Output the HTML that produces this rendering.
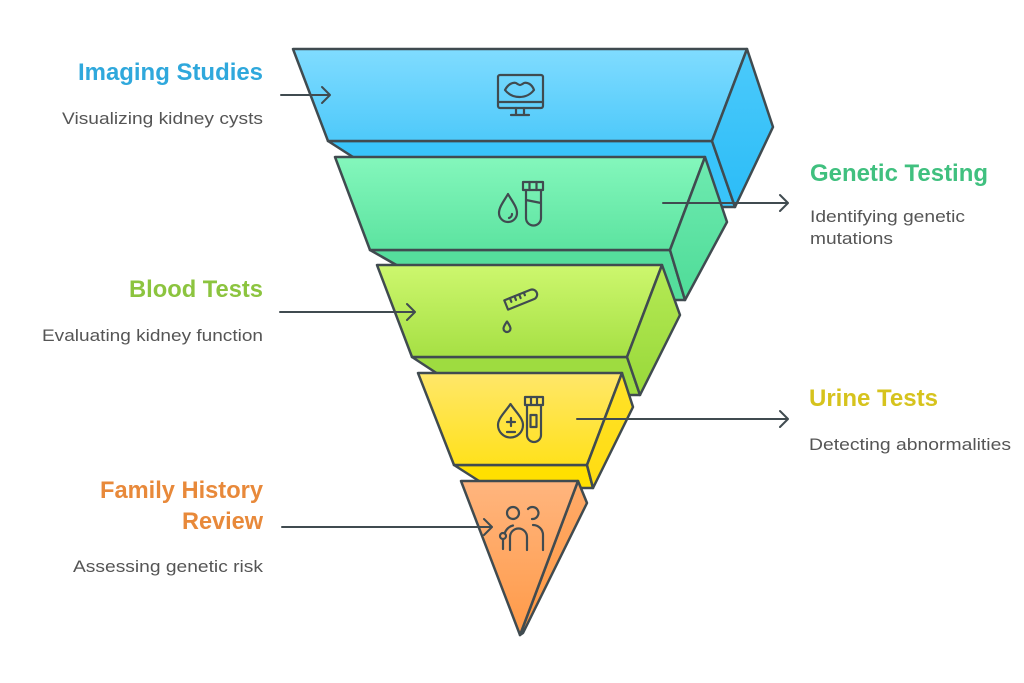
<!DOCTYPE html>
<html>
<head>
<meta charset="utf-8">
<style>
  html,body{margin:0;padding:0;background:#ffffff;}
  svg{display:block;}
  .t{font-family:"Liberation Sans",Arial,sans-serif;font-weight:bold;font-size:24px;}
  .s{font-family:"Liberation Sans",Arial,sans-serif;font-size:17px;fill:#555555;}
</style>
</head>
<body>
<svg width="1024" height="683" viewBox="0 0 1024 683" xmlns="http://www.w3.org/2000/svg">
  <defs>
    <linearGradient id="bF" x1="0" y1="0" x2="0" y2="1"><stop offset="0" stop-color="#80dcff"/><stop offset="1" stop-color="#4ec9fa"/></linearGradient>
    <linearGradient id="bS" x1="0" y1="0" x2="0" y2="1"><stop offset="0" stop-color="#4ccafb"/><stop offset="1" stop-color="#2bbcf7"/></linearGradient>
    <linearGradient id="gF" x1="0" y1="0" x2="0" y2="1"><stop offset="0" stop-color="#84f7bc"/><stop offset="1" stop-color="#5ce3a0"/></linearGradient>
    <linearGradient id="gS" x1="0" y1="0" x2="0" y2="1"><stop offset="0" stop-color="#6eeab0"/><stop offset="1" stop-color="#4fdc98"/></linearGradient>
    <linearGradient id="lF" x1="0" y1="0" x2="0" y2="1"><stop offset="0" stop-color="#cdf76e"/><stop offset="1" stop-color="#a6e044"/></linearGradient>
    <linearGradient id="lS" x1="0" y1="0" x2="0" y2="1"><stop offset="0" stop-color="#b5ea55"/><stop offset="1" stop-color="#98d83a"/></linearGradient>
    <linearGradient id="yF" x1="0" y1="0" x2="0" y2="1"><stop offset="0" stop-color="#ffe76a"/><stop offset="1" stop-color="#ffe11c"/></linearGradient>
    <linearGradient id="yS" x1="0" y1="0" x2="0" y2="1"><stop offset="0" stop-color="#ffe22a"/><stop offset="1" stop-color="#ffdc10"/></linearGradient>
    <linearGradient id="oF" x1="0" y1="0" x2="0" y2="1"><stop offset="0" stop-color="#ffb57e"/><stop offset="1" stop-color="#ff9a48"/></linearGradient>
    <linearGradient id="oS" x1="0" y1="0" x2="0" y2="1"><stop offset="0" stop-color="#ffab6a"/><stop offset="1" stop-color="#ff973f"/></linearGradient>
  </defs>

  <g stroke="#404b50" stroke-width="2.5" stroke-linejoin="round">
    <!-- Layer 1 (blue) -->
    <polygon points="328,141 712,141 735,207 431,207" fill="#39c4fa"/>
    <polygon points="293,49 747,49 712,141 328,141" fill="url(#bF)"/>
    <polygon points="747,49 773,127 735,207 712,141" fill="url(#bS)"/>

    <!-- Layer 2 (green) -->
    <polygon points="370,250 670,250 685,300 458,300" fill="#55dd9c"/>
    <polygon points="335,157 705,157 670,250 370,250" fill="url(#gF)"/>
    <polygon points="705,157 727,222 685,300 670,250" fill="url(#gS)"/>

    <!-- Layer 3 (lime) -->
    <polygon points="412,357 627,357 640,395 470,395" fill="#9edc40"/>
    <polygon points="377,265 662,265 627,357 412,357" fill="url(#lF)"/>
    <polygon points="662,265 680,315 640,395 627,357" fill="url(#lS)"/>

    <!-- Layer 4 (yellow) -->
    <polygon points="454,465 587,465 593,488 490,488" fill="#ffe000"/>
    <polygon points="418,373 622,373 587,465 454,465" fill="url(#yF)"/>
    <polygon points="622,373 633,407 593,488 587,465" fill="url(#yS)"/>

    <!-- Layer 5 (orange) -->
    <polygon points="578,481 587,503 523,633 520,635" fill="url(#oS)"/>
    <polygon points="461,481 578,481 520,635" fill="url(#oF)"/>
  </g>

  <!-- Icons -->
  <g fill="none" stroke="#404b50" stroke-width="2.2" stroke-linecap="round" stroke-linejoin="round">
    <!-- monitor -->
    <rect x="498" y="75" width="45" height="33" rx="2"/>
    <line x1="498" y1="102" x2="543" y2="102"/>
    <path d="M516,108 L516,114 M524,108 L524,114 M511,115 L529,115"/>
    <path d="M505,90 C508,84 513,82 516,83 Q519,85 520,85 Q521,85 524,83 C527,82 532,84 534,90 C530,95 525,97 519.5,97 C514,97 509,95 505,90 Z"/>

    <!-- drop + tube -->
    <path d="M508,194 C504,201 499,207 499,213 A9,9 0 0 0 517,213 C517,207 512,201 508,194 Z"/>
    <path d="M512,214 A4,4 0 0 1 509,218"/>
    <rect x="523" y="182" width="20" height="8"/>
    <path d="M529.5,182 V190 M536.5,182 V190"/>
    <path d="M526,190 V218 A7.5,7.5 0 0 0 541,218 V190"/>
    <path d="M526,200 L541,203"/>

    <!-- pipette -->
    <g transform="rotate(-22 521 299)">
      <path d="M505,294 H533 A5,5 0 0 1 533,304 H505 Z"/>
      <path d="M511,294 V298 M516,294 V298 M521,294 V298 M526,294 V297"/>
    </g>
    <path d="M507,321.5 C505,324.5 503.5,326.5 503.5,328.5 A3.5,3.5 0 0 0 510.5,328.5 C510.5,326.5 509,324.5 507,321.5 Z"/>

    <!-- drop with ± + tube -->
    <path d="M510.5,404 C506,411 498,418 498,425 A12.5,12.5 0 0 0 523,425 C523,418 515,411 510.5,404 Z"/>
    <path d="M507,422 H515 M511,418 V426 M507,432 H515"/>
    <rect x="525" y="397" width="18" height="8"/>
    <path d="M531,397 V405 M537,397 V405"/>
    <path d="M527,405 V435 A7,7 0 0 0 541,435 V405"/>
    <rect x="530.5" y="415" width="6" height="12"/>

    <!-- people -->
    <circle cx="513" cy="513" r="6"/>
    <path d="M528,509 A6,6 0 1 1 532,519"/>
    <path d="M510,550 V537 A8.5,8.5 0 0 1 527,537 V550"/>
    <path d="M533,525 A10,10 0 0 1 543,535 V550"/>
    <circle cx="503" cy="536" r="3"/>
    <path d="M504.5,533.5 Q507,527 513,525.5"/>
    <path d="M503,539 V549"/>
  </g>

  <!-- Arrows -->
  <g fill="none" stroke="#404b50" stroke-width="2" stroke-linecap="round" stroke-linejoin="round">
    <path d="M281,95 H330 M322,87 L330,95 L322,103"/>
    <path d="M663,203 H788 M780,195 L788,203 L780,211"/>
    <path d="M280,312 H415 M407,304 L415,312 L407,320"/>
    <path d="M577,419 H788 M780,411 L788,419 L780,427"/>
    <path d="M282,527 H492 M484,519 L492,527 L484,535"/>
  </g>

  <!-- Labels -->
  <text class="t" x="263" y="80" text-anchor="end" fill="#2fa8dc" textLength="185" lengthAdjust="spacingAndGlyphs">Imaging Studies</text>
  <text class="s" x="263" y="124" text-anchor="end" textLength="201" lengthAdjust="spacingAndGlyphs">Visualizing kidney cysts</text>

  <text class="t" x="810" y="181" fill="#40c07f" textLength="178" lengthAdjust="spacingAndGlyphs">Genetic Testing</text>
  <text class="s" x="810" y="222" textLength="155" lengthAdjust="spacingAndGlyphs">Identifying genetic</text>
  <text class="s" x="810" y="244" textLength="83" lengthAdjust="spacingAndGlyphs">mutations</text>

  <text class="t" x="263" y="297" text-anchor="end" fill="#8cc43f" textLength="134" lengthAdjust="spacingAndGlyphs">Blood Tests</text>
  <text class="s" x="263" y="341" text-anchor="end" textLength="221" lengthAdjust="spacingAndGlyphs">Evaluating kidney function</text>

  <text class="t" x="809" y="406" fill="#d6c31d" textLength="129" lengthAdjust="spacingAndGlyphs">Urine Tests</text>
  <text class="s" x="809" y="450" textLength="202" lengthAdjust="spacingAndGlyphs">Detecting abnormalities</text>

  <text class="t" x="263" y="498" text-anchor="end" fill="#e8893a" textLength="163" lengthAdjust="spacingAndGlyphs">Family History</text>
  <text class="t" x="263" y="529" text-anchor="end" fill="#e8893a" textLength="81" lengthAdjust="spacingAndGlyphs">Review</text>
  <text class="s" x="263" y="572" text-anchor="end" textLength="190" lengthAdjust="spacingAndGlyphs">Assessing genetic risk</text>
</svg>
</body>
</html>
